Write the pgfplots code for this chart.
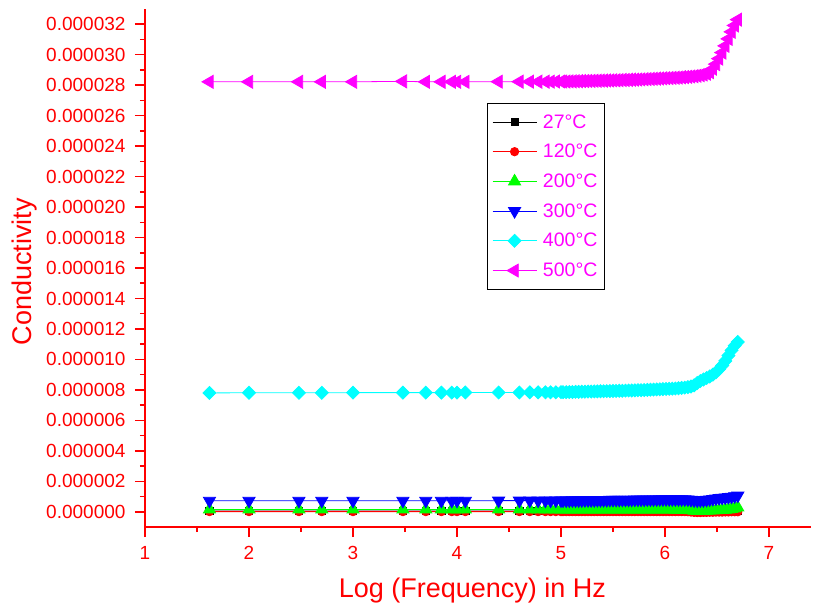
\documentclass[border=0pt]{standalone}
\usepackage{fontspec}
\setmainfont{Liberation Sans}
\usepackage{pgfplots}
\usepackage{pgfplotstable}
\pgfplotsset{compat=1.18}
\definecolor{cRed}{RGB}{255,0,0}
\definecolor{cGreen}{RGB}{0,255,0}
\definecolor{cBlue}{RGB}{0,0,255}
\definecolor{cCyan}{RGB}{0,255,255}
\definecolor{cMag}{RGB}{255,0,255}

\pgfplotstableread{
x    a        b         c        d        e         f
1.62 0.05e-6  0.01e-6   0.15e-6  0.72e-6  7.80e-6   28.22e-6
2.00 0.05e-6  0.01e-6   0.15e-6  0.72e-6  7.81e-6   28.22e-6
2.48 0.05e-6  0.01e-6   0.15e-6  0.72e-6  7.81e-6   28.22e-6
2.70 0.05e-6  0.01e-6   0.15e-6  0.72e-6  7.81e-6   28.22e-6
3.00 0.05e-6  0.01e-6   0.15e-6  0.72e-6  7.82e-6   28.22e-6
3.48 0.05e-6  0.01e-6   0.15e-6  0.72e-6  7.82e-6   28.25e-6
3.70 0.05e-6  0.01e-6   0.15e-6  0.72e-6  7.82e-6   28.22e-6
3.85 0.05e-6  0.01e-6   0.15e-6  0.72e-6  7.82e-6   28.22e-6
3.95 0.05e-6  0.01e-6   0.15e-6  0.72e-6  7.82e-6   28.22e-6
4.00 0.05e-6  0.01e-6   0.15e-6  0.72e-6  7.82e-6   28.22e-6
4.08 0.05e-6  0.01e-6   0.15e-6  0.72e-6  7.83e-6   28.22e-6
4.40 0.05e-6  0.01e-6   0.15e-6  0.73e-6  7.83e-6   28.23e-6
4.60 0.05e-6  0.01e-6   0.15e-6  0.73e-6  7.83e-6   28.23e-6
4.70 0.05e-6  0.01e-6   0.15e-6  0.73e-6  7.84e-6   28.23e-6
4.78 0.05e-6  0.01e-6   0.15e-6  0.73e-6  7.84e-6   28.23e-6
4.85 0.05e-6  0.01e-6   0.15e-6  0.73e-6  7.84e-6   28.23e-6
4.90 0.05e-6  0.01e-6   0.15e-6  0.73e-6  7.84e-6   28.23e-6
4.95 0.05e-6  0.01e-6   0.15e-6  0.74e-6  7.84e-6   28.24e-6
5.00 0.05e-6  0.01e-6   0.15e-6  0.74e-6  7.85e-6   28.24e-6
5.02 0.05e-6  0.01e-6   0.15e-6  0.74e-6  7.85e-6   28.24e-6
5.05 0.05e-6  0.01e-6   0.15e-6  0.74e-6  7.85e-6   28.24e-6
5.08 0.05e-6  0.01e-6   0.15e-6  0.74e-6  7.86e-6   28.25e-6
5.11 0.05e-6  0.01e-6   0.15e-6  0.75e-6  7.86e-6   28.25e-6
5.14 0.05e-6  0.01e-6   0.15e-6  0.75e-6  7.87e-6   28.26e-6
5.17 0.05e-6  0.01e-6   0.15e-6  0.75e-6  7.87e-6   28.26e-6
5.20 0.05e-6  0.01e-6   0.15e-6  0.75e-6  7.88e-6   28.27e-6
5.23 0.05e-6  0.01e-6   0.15e-6  0.76e-6  7.88e-6   28.27e-6
5.26 0.05e-6  0.01e-6   0.15e-6  0.76e-6  7.89e-6   28.28e-6
5.29 0.05e-6  0.01e-6   0.15e-6  0.76e-6  7.89e-6   28.28e-6
5.32 0.05e-6  0.01e-6   0.15e-6  0.76e-6  7.90e-6   28.29e-6
5.35 0.05e-6  0.01e-6   0.15e-6  0.77e-6  7.90e-6   28.29e-6
5.38 0.05e-6  0.01e-6   0.15e-6  0.77e-6  7.91e-6   28.30e-6
5.41 0.05e-6  0.01e-6   0.15e-6  0.77e-6  7.91e-6   28.30e-6
5.44 0.05e-6  0.01e-6   0.15e-6  0.77e-6  7.92e-6   28.31e-6
5.47 0.05e-6  0.01e-6   0.15e-6  0.78e-6  7.92e-6   28.31e-6
5.50 0.05e-6  0.01e-6   0.15e-6  0.78e-6  7.93e-6   28.32e-6
5.53 0.05e-6  0.01e-6   0.15e-6  0.78e-6  7.93e-6   28.32e-6
5.56 0.05e-6  0.01e-6   0.15e-6  0.78e-6  7.94e-6   28.33e-6
5.59 0.05e-6  0.01e-6   0.15e-6  0.79e-6  7.94e-6   28.34e-6
5.62 0.05e-6  0.01e-6   0.15e-6  0.79e-6  7.95e-6   28.34e-6
5.65 0.05e-6  0.01e-6   0.15e-6  0.79e-6  7.96e-6   28.35e-6
5.68 0.05e-6  0.01e-6   0.15e-6  0.79e-6  7.96e-6   28.36e-6
5.71 0.05e-6  0.01e-6   0.15e-6  0.80e-6  7.97e-6   28.36e-6
5.74 0.05e-6  0.01e-6   0.15e-6  0.80e-6  7.98e-6   28.37e-6
5.77 0.05e-6  0.01e-6   0.15e-6  0.80e-6  7.98e-6   28.38e-6
5.80 0.05e-6  0.01e-6   0.15e-6  0.80e-6  7.99e-6   28.39e-6
5.83 0.05e-6  0.01e-6   0.15e-6  0.81e-6  8.00e-6   28.40e-6
5.86 0.05e-6  0.01e-6   0.15e-6  0.81e-6  8.01e-6   28.41e-6
5.89 0.05e-6  0.01e-6   0.15e-6  0.81e-6  8.02e-6   28.42e-6
5.92 0.05e-6  0.01e-6   0.15e-6  0.81e-6  8.03e-6   28.43e-6
5.95 0.05e-6  0.01e-6   0.15e-6  0.82e-6  8.04e-6   28.44e-6
5.98 0.05e-6  0.01e-6   0.15e-6  0.82e-6  8.05e-6   28.45e-6
6.01 0.05e-6  0.01e-6   0.15e-6  0.82e-6  8.06e-6   28.46e-6
6.04 0.05e-6  0.01e-6   0.15e-6  0.82e-6  8.07e-6   28.47e-6
6.07 0.05e-6  0.01e-6   0.15e-6  0.82e-6  8.08e-6   28.48e-6
6.10 0.05e-6  0.01e-6   0.14e-6  0.82e-6  8.09e-6   28.49e-6
6.13 0.05e-6  0.01e-6   0.14e-6  0.82e-6  8.11e-6   28.50e-6
6.16 0.05e-6  0.01e-6   0.14e-6  0.82e-6  8.13e-6   28.52e-6
6.19 0.05e-6  0.01e-6   0.14e-6  0.82e-6  8.15e-6   28.53e-6
6.22 0.05e-6  0.00e-6   0.13e-6  0.81e-6  8.18e-6   28.55e-6
6.25 0.04e-6  -0.02e-6  0.10e-6  0.78e-6  8.22e-6   28.57e-6
6.28 0.04e-6  -0.04e-6  0.07e-6  0.75e-6  8.30e-6   28.59e-6
6.31 0.04e-6  -0.05e-6  0.05e-6  0.74e-6  8.45e-6   28.62e-6
6.34 0.04e-6  -0.05e-6  0.05e-6  0.75e-6  8.58e-6   28.66e-6
6.37 0.04e-6  -0.04e-6  0.06e-6  0.76e-6  8.68e-6   28.70e-6
6.40 0.04e-6  -0.04e-6  0.07e-6  0.78e-6  8.78e-6   28.76e-6
6.43 0.04e-6  -0.03e-6  0.08e-6  0.81e-6  8.88e-6   28.86e-6
6.46 0.04e-6  -0.03e-6  0.09e-6  0.84e-6  9.00e-6   29.08e-6
6.49 0.04e-6  -0.02e-6  0.10e-6  0.87e-6  9.15e-6   29.38e-6
6.52 0.04e-6  -0.02e-6  0.11e-6  0.90e-6  9.35e-6   29.74e-6
6.55 0.04e-6  -0.02e-6  0.12e-6  0.92e-6  9.60e-6   30.14e-6
6.58 0.04e-6  -0.01e-6  0.13e-6  0.94e-6  9.90e-6   30.58e-6
6.61 0.04e-6  -0.01e-6  0.15e-6  0.97e-6  10.25e-6  31.04e-6
6.64 0.04e-6  0.00e-6   0.18e-6  0.99e-6  10.60e-6  31.50e-6
6.67 0.04e-6  0.00e-6   0.22e-6  1.02e-6  10.90e-6  31.92e-6
6.70 0.04e-6  0.00e-6   0.28e-6  1.06e-6  11.15e-6  32.30e-6
}\data

\begin{document}
\begin{tikzpicture}
\path[use as bounding box] (-145pt,-81pt) rectangle (669pt,527pt);
\begin{axis}[
  scale only axis, width=665.6pt, height=518pt,
  xmin=1, xmax=7.4, ymin=-0.000001, ymax=0.000033,
  axis x line*=bottom, axis y line*=left,
  axis line style={cRed, line width=2pt},
  tick align=outside, major tick length=10pt, minor tick length=5pt,
  every tick/.style={cRed, line width=1.5pt},
  xtick={1,2,3,4,5,6,7}, minor x tick num=1,
  ytick={0,0.000002,0.000004,0.000006,0.000008,0.00001,0.000012,0.000014,0.000016,0.000018,0.00002,0.000022,0.000024,0.000026,0.000028,0.00003,0.000032},
  minor y tick num=1,
  scaled y ticks=false,
  yticklabel style={xshift=-6pt, /pgf/number format/fixed, /pgf/number format/fixed zerofill, /pgf/number format/precision=6},
  xticklabel style={yshift=-6pt},
  /pgf/number format/assume math mode=true,
  tick label style={text=cRed, font=\fontsize{19}{22}\selectfont},
  xlabel={Log (Frequency) in Hz},
  ylabel={Conductivity},
  label style={text=cRed, font=\fontsize{27}{32}\selectfont},
  xlabel style={at={(axis description cs:0.492,-0.137)}, anchor=base},
  ylabel style={at={(axis description cs:-0.170,0.493)}, anchor=base},
  legend style={at={(rel axis cs:0.5135,0.8185)}, anchor=north west, draw=black, line width=0.8pt,
    font=\fontsize{19.5}{22}\selectfont, text=cMag, row sep=10.6pt, column sep=4pt,
    inner xsep=5pt, inner ysep=9pt,
    cells={anchor=west}},
  legend image code/.code={\draw[mark repeat=2, mark phase=2] plot coordinates {(0pt,0pt) (22pt,0pt) (44pt,0pt)};},
  clip=false,
]
\addplot[color=black, line width=0.8pt, mark=square*, mark size=3.6pt, mark options={solid}] table[x=x,y=a]{\data};
\addplot[color=cRed, line width=0.8pt, mark=*, mark size=4.2pt, mark options={solid}] table[x=x,y=b]{\data};
\addplot[color=cGreen, line width=0.8pt, mark=triangle*, mark size=7pt, mark options={solid}] table[x=x,y=c]{\data};
\addplot[color=cBlue, line width=0.8pt, mark=triangle*, mark size=7pt, mark options={solid, rotate=180}] table[x=x,y=d]{\data};
\addplot[color=cCyan, line width=0.8pt, mark=square*, mark size=4.6pt, mark options={solid, rotate=45}] table[x=x,y=e]{\data};
\addplot[color=cMag, line width=0.8pt, mark=triangle*, mark size=7.5pt, mark options={solid, rotate=90}] table[x=x,y=f]{\data};
\legend{27°C,120°C,200°C,300°C,400°C,500°C}
\end{axis}
\end{tikzpicture}
\end{document}
